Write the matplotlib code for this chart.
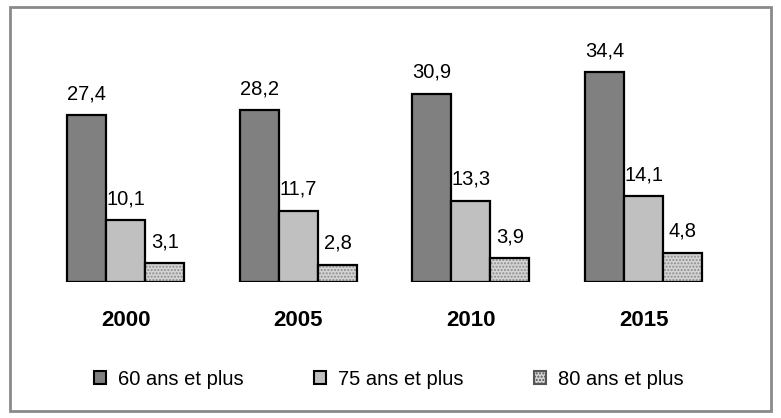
import matplotlib
matplotlib.use("Agg")
import matplotlib.pyplot as plt
from matplotlib.patches import Patch, Rectangle

annees = ["2000", "2005", "2010", "2015"]
plus60 = [27.4, 28.2, 30.9, 34.4]
plus75 = [10.1, 11.7, 13.3, 14.1]
plus80 = [3.1, 2.8, 3.9, 4.8]
series = ["60 ans et plus", "75 ans et plus", "80 ans et plus"]

plt.rcParams['font.family'] = ['Liberation Sans', 'DejaVu Sans']

fig = plt.figure(figsize=(7.81, 4.18), dpi=100)
ax = fig.add_axes([0, 136 / 418, 1, 242 / 418])

larg = 0.226
x = list(range(len(annees)))
couleurs = ['#808080', '#c0c0c0', '#d4d4d4']

for k, vals in enumerate([plus60, plus75, plus80]):
    pos = [i + (k - 1) * larg for i in x]
    if k == 2:
        # fond pointille
        ax.bar(pos, vals, width=larg, color=couleurs[k], edgecolor='#8c8c8c',
               hatch='.....', linewidth=0)
        ax.bar(pos, vals, width=larg, fill=False, edgecolor='black', linewidth=1.6)
    else:
        ax.bar(pos, vals, width=larg, color=couleurs[k], edgecolor='black', linewidth=1.6)
    for p, v in zip(pos, vals):
        ax.annotate(('%.1f' % v).replace('.', ','), (p, v), xytext=(0, 11.5),
                    textcoords='offset points', ha='center', va='baseline',
                    fontsize=14.5)

for i, a in enumerate(annees):
    ax.annotate(a, (i, 0), xytext=(0, -32), textcoords='offset points',
                ha='center', va='baseline', fontsize=16, fontweight='bold')

ax.set_xlim(-0.730, 3.797)
ax.set_ylim(0, 39.7)
ax.axis('off')

handles = [Patch(facecolor=couleurs[0], edgecolor='black', linewidth=1.5),
           Patch(facecolor=couleurs[1], edgecolor='black', linewidth=1.5),
           Patch(facecolor=couleurs[2], edgecolor='#555555', hatch='.....', linewidth=1.5)]
fig.legend(handles, series, loc='center', bbox_to_anchor=(0.498, 0.093), ncol=3,
           frameon=False, fontsize=14.5, handlelength=0.6, handleheight=0.6,
           columnspacing=3.5, handletextpad=0.6)

fig.patches.append(Rectangle((9.5 / 781, 7 / 418), 761 / 781, 404 / 418,
                             transform=fig.transFigure, fill=False,
                             edgecolor='#8a8a8a', linewidth=2))

fig.savefig('out.png', dpi=100)
